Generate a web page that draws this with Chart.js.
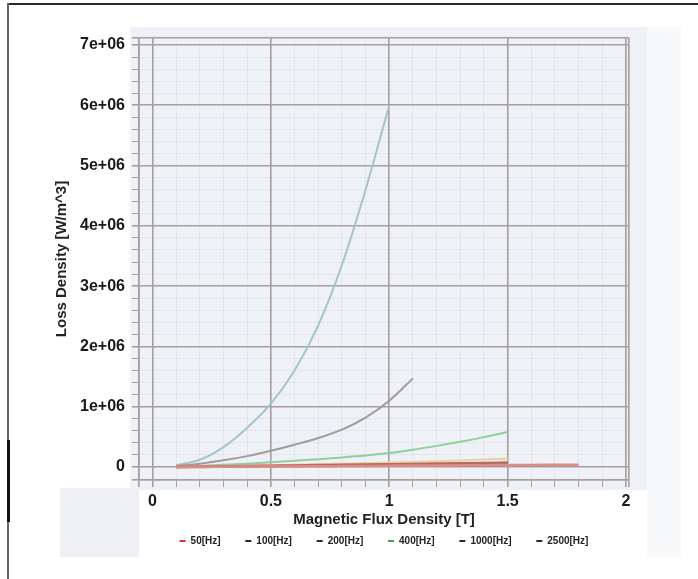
<!DOCTYPE html>
<html>
<head>
<meta charset="utf-8">
<title>Loss Density vs Magnetic Flux Density</title>
<script src="https://cdn.jsdelivr.net/npm/chart.js@4.4.1/dist/chart.umd.min.js"></script>
<style>
    html, body { margin: 0; padding: 0; background: #ffffff; }
    #wrap { position: relative; width: 698px; height: 579px; overflow: hidden; }
    #lossChart { position: absolute; left: 0; top: 0; }
    .frame-top { position: absolute; left: 7px; top: 3px; width: 691px; height: 2px; background: #2a2a2a; }
    .frame-left { position: absolute; left: 7px; top: 3px; width: 2px; height: 576px; background: #666666; }
    .frame-mark { position: absolute; left: 7px; top: 440px; width: 3px; height: 82px; background: #111111; }
</style>
</head>
<body>
<div id="wrap">
    <canvas id="lossChart" width="698" height="579"></canvas>
    <div class="frame-top"></div>
    <div class="frame-left"></div>
    <div class="frame-mark"></div>
</div>
<script>
// Flux density samples [T] and core loss per frequency [W/m^3]
const fluxDensity = [0.1, 0.2, 0.3, 0.4, 0.5, 0.6, 0.7, 0.8, 0.9, 1.0, 1.1, 1.2, 1.3, 1.4, 1.5, 1.6, 1.7, 1.8];

const loss50Hz = [500, 2000, 4000, 6000, 8000, 10000, 12500, 15000, 17500, 20000, 22500, 25000, 27500, 30000, 32000, 34000, 36000, 38000];
const loss100Hz = [1000, 4000, 8000, 12000, 17000, 22000, 27000, 32000, 37000, 42000, 47000, 52000, 57000, 63000, 70000];
const loss200Hz = [2000, 8000, 15000, 22000, 30000, 38000, 46000, 55000, 64000, 73000, 83000, 95000, 108000, 122000, 140000];
const loss400Hz = [5000, 18000, 35000, 55000, 80000, 105000, 130000, 158000, 190000, 230000, 285000, 350000, 420000, 495000, 580000];
const loss1000Hz = [15000, 55000, 110000, 180000, 270000, 370000, 480000, 620000, 820000, 1100000, 1470000];
const loss2500Hz = [30000, 120000, 330000, 650000, 1050000, 1600000, 2350000, 3350000, 4600000, 6000000];

const seriesLabels = ['50[Hz]', '100[Hz]', '200[Hz]', '400[Hz]', '1000[Hz]', '2500[Hz]'];
const seriesColors = ['#e08a86', '#b46a5e', '#eecf9f', '#92cd9c', '#a19b9b', '#a6c3cc'];
const seriesWidths = [2.5, 3, 2, 2, 2, 2];
const legendColors = ['#e0303a', '#2b2b2b', '#2b2b2b', '#3aa655', '#2b2b2b', '#2b2b2b'];

const xTickValues = [0, 0.5, 1, 1.5, 2];
const xTickLabels = ['0', '0.5', '1', '1.5', '2'];
const yTickValues = [0, 1e6, 2e6, 3e6, 4e6, 5e6, 6e6, 7e6];
const yTickLabels = ['0', '1e+06', '2e+06', '3e+06', '4e+06', '5e+06', '6e+06', '7e+06'];

const lossSeries = [loss50Hz, loss100Hz, loss200Hz, loss400Hz, loss1000Hz, loss2500Hz];

function toPoints(values) {
    return values.map((v, i) => ({ x: fluxDensity[i], y: v }));
}

function matchTick(value, ticks, tol) {
    return ticks.findIndex(t => Math.abs(t - value) < tol);
}

// major ticks plus four minor steps between them, and the two axis ends
function buildTicks(scale, major) {
    const step = (major[1] - major[0]) / 5;
    const values = [scale.min];
    for (let k = 0; k <= (major.length - 1) * 5; k++) {
        values.push(major[0] + k * step);
    }
    values.push(scale.max);
    scale.ticks = values.map(v => ({ value: v }));
}

const majorColor = '#a99d9d';
const minorColor = 'rgba(165, 155, 155, 0.12)';

function isMajor(ctx, ticks, tol) {
    const v = ctx.tick.value;
    const s = ctx.scale;
    return matchTick(v, ticks, tol) >= 0 || Math.abs(v - s.min) < tol || Math.abs(v - s.max) < tol;
}

// light panels behind the plot
const panelBackground = {
    id: 'panelBackground',
    beforeDraw(chart) {
        const c = chart.ctx;
        c.save();
        c.fillStyle = '#f8f9fb';
        c.fillRect(647, 27, 34, 530);
        c.fillStyle = '#eef1f6';
        c.fillRect(130, 27, 517, 463);
        c.fillStyle = '#eef0f4';
        c.fillRect(60, 488, 79, 69);
        c.restore();
    }
};

const datasets = lossSeries.map((values, i) => ({
    label: seriesLabels[i],
    data: toPoints(values),
    borderColor: seriesColors[i],
    backgroundColor: seriesColors[i],
    borderWidth: seriesWidths[i],
    pointRadius: 0,
    cubicInterpolationMode: 'monotone',
    fill: false
}));

const tickFont = { family: "'Liberation Sans', Arial, sans-serif", size: 16, weight: 'bold' };
const titleFont = { family: "'Liberation Sans', Arial, sans-serif", size: 15, weight: 'bold' };

const ctx = document.getElementById('lossChart').getContext('2d');

const lossChart = new Chart(ctx, {
    type: 'line',
    data: { datasets: datasets },
    plugins: [panelBackground],
    options: {
        responsive: false,
        animation: false,
        devicePixelRatio: 1,
        layout: { padding: { left: 53, right: 69, top: 38, bottom: 23 } },
        plugins: {
            tooltip: { enabled: false },
            legend: {
                position: 'bottom',
                fullSize: false,
                labels: {
                    boxWidth: 6,
                    boxHeight: 2,
                    padding: 7,
                    color: '#222222',
                    font: { family: "'Liberation Sans', Arial, sans-serif", size: 10, weight: 'bold' },
                    generateLabels(chart) {
                        const n = chart.data.datasets.length;
                        return chart.data.datasets.map((ds, i) => ({
                            text: i < n - 1 ? ds.label + '\u2002\u2002\u2002 ' : ds.label,
                            fillStyle: legendColors[i],
                            strokeStyle: legendColors[i],
                            lineWidth: 0,
                            fontColor: '#222222',
                            hidden: !chart.isDatasetVisible(i),
                            datasetIndex: i
                        }));
                    }
                }
            }
        },
        scales: {
            x: {
                type: 'linear',
                position: 'bottom',
                min: -0.057,
                max: 2.0127,
                afterFit(scale) { scale.height = 49; },
                afterBuildTicks(scale) { buildTicks(scale, xTickValues); },
                title: {
                    display: true,
                    text: 'Magnetic Flux Density [T]',
                    color: '#222222',
                    font: titleFont,
                    padding: 0
                },
                ticks: {
                    autoSkip: false,
                    maxRotation: 0,
                    padding: 5,
                    color: '#1a1a1a',
                    font: tickFont,
                    callback(value) {
                        const k = matchTick(value, xTickValues, 1e-6);
                        return k >= 0 ? xTickLabels[k] : '';
                    }
                },
                grid: {
                    color: c => isMajor(c, xTickValues, 1e-6) ? majorColor : minorColor,
                    lineWidth: c => isMajor(c, xTickValues, 1e-6) ? 1.6 : 1,
                    tickLength: 7,
                    tickColor: majorColor
                },
                border: { color: majorColor, width: 1.6 }
            },
            y: {
                type: 'linear',
                min: -216000,
                max: 7116000,
                afterFit(scale) { scale.width = 86; },
                afterBuildTicks(scale) { buildTicks(scale, yTickValues); },
                title: {
                    display: true,
                    text: 'Loss Density [W/m^3]',
                    color: '#222222',
                    font: titleFont,
                    padding: 0
                },
                ticks: {
                    autoSkip: false,
                    padding: 7,
                    color: '#1a1a1a',
                    font: tickFont,
                    callback(value) {
                        const k = matchTick(value, yTickValues, 1);
                        return k >= 0 ? yTickLabels[k] : '';
                    }
                },
                grid: {
                    color: c => isMajor(c, yTickValues, 1) ? majorColor : minorColor,
                    lineWidth: c => isMajor(c, yTickValues, 1) ? 1.6 : 1,
                    tickLength: 7,
                    tickColor: majorColor
                },
                border: { color: majorColor, width: 1.6 }
            }
        }
    }
});
</script>
</body>
</html>
